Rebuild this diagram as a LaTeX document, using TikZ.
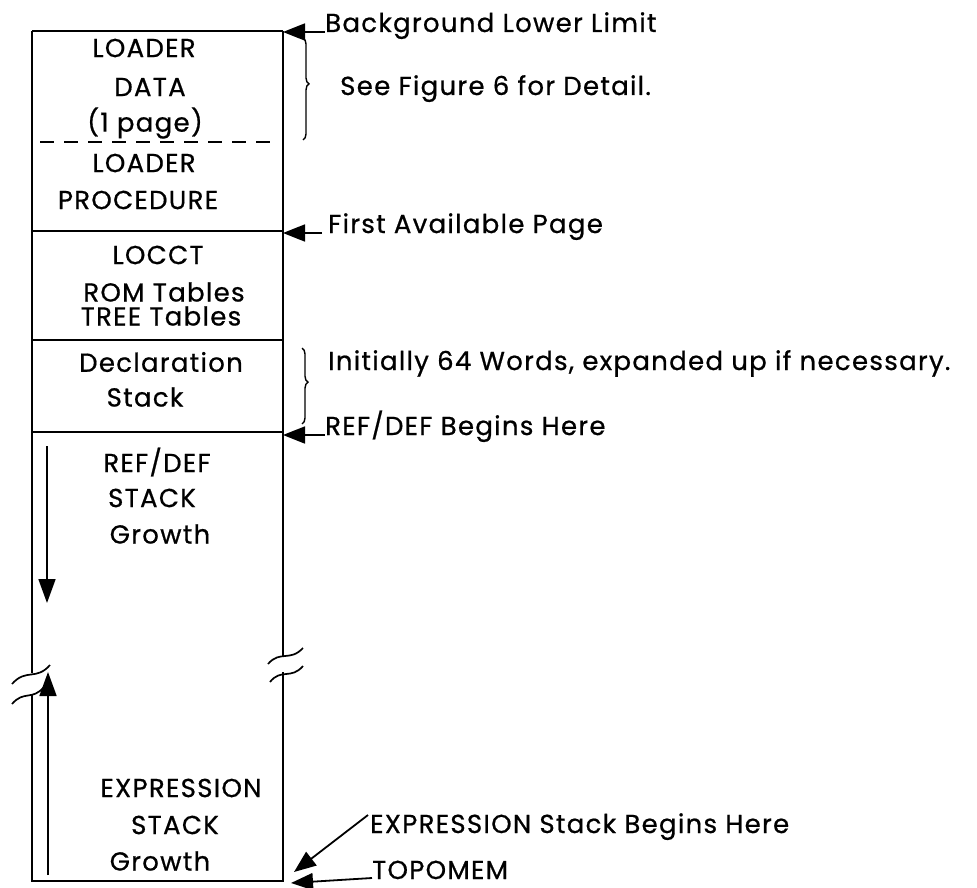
\documentclass[tikz,border=0pt]{standalone}
\usepackage{fontspec}
\setmainfont{Poppins}[LetterSpace=5, FakeBold=0.7]
\usepackage{tikz}
\usetikzlibrary{calc, positioning, arrows.meta, decorations.pathreplacing}

\newcommand{\memsize}{\fontsize{26}{31}\selectfont}

\tikzset{
  memtxt/.style={font=\memsize, inner sep=0pt},
  lbl/.style={font=\memsize, inner sep=0pt, anchor=base west},
  wall/.style={line width=2pt},
  ptr/.style={line width=1.8pt, arrows={-Triangle[length=22pt,width=17pt]}},
  growarrow/.style={line width=1.8pt, arrows={-Triangle[length=24pt,width=17pt]}},
  brk/.style={line width=1.7pt},
  curly/.style={decorate, decoration={brace, amplitude=6pt, aspect=0.45}, line width=1.4pt},
}

\begin{document}
\begin{tikzpicture}[x=1pt, y=-1pt]
    % Page frame, same size as the scan
    \useasboundingbox (0,0) rectangle (977,888);

    % Corners of the memory box
    \coordinate (tl) at (32,31);
    \coordinate (tr) at (283,31);
    \coordinate (bl) at (32,881);
    \coordinate (br) at (283,881);

    % Outer walls, broken near the middle
    \draw[line width=2.8pt] (tl) -- (tr);
    \draw[wall] (tl) -- (32,673);
    \draw[wall] (32,695) -- (bl) -- (br) -- (283,672);
    \draw[wall] (tr) -- (283,656);

    % Break marks on both walls
    \draw[brk] (12,684) .. controls (26,668) and (36,681) .. (50,665);
    \draw[brk] (12,704) .. controls (24,690) and (32,701) .. (44,687);
    \draw[brk] (268,664) .. controls (280,650) and (290,662) .. (303,648);
    \draw[brk] (270,682) .. controls (281,668) and (291,680) .. (303,666);

    % Section dividers
    \draw[wall, dash pattern=on 14pt off 10pt] (40,142) -- (277,142);
    \foreach \yy in {231, 340, 432}
        \draw[wall] (32,\yy) -- (283,\yy);

    % Texts inside the box
    \node[memtxt] (ldata)  at (144,48)  {LOADER};
    \node[memtxt] (data)   at (150,87)  {DATA};
    \node[memtxt] (onepg)  at (145,123) {(1 page)};
    \node[memtxt] (lproc)  at (144,163) {LOADER};
    \node[memtxt] (proc)   at (138,200) {PROCEDURE};
    \node[memtxt] (locct)  at (158,255) {LOCCT};
    \node[memtxt] (romtab) at (164,292) {ROM Tables};
    \node[memtxt] (trtab)  at (161,316) {TREE Tables};
    \node[memtxt] (decl)   at (161,362) {Declaration};
    \node[memtxt] (dstack) at (145,397) {Stack};
    \node[memtxt] (refdef) at (157,462) {REF/DEF};
    \node[memtxt] (rstack) at (152,498) {STACK};
    \node[memtxt] (rgrow)  at (160,534) {Growth};
    \node[memtxt] (expr)   at (181,788) {EXPRESSION};
    \node[memtxt] (estack) at (175,825) {STACK};
    \node[memtxt] (egrow)  at (160,861) {Growth};

    % Growth directions of the two stacks
    \coordinate (rtop) at (47,446);
    \coordinate (rend) at (47,603);
    \coordinate (ebot) at (48,875);
    \coordinate (eend) at (48,672);
    \draw[growarrow] (rtop) -- (rend);
    \draw[growarrow] (ebot) -- (eend);

    % Notes on the right
    \node[lbl] (bll)   at (325,32)  {Background Lower Limit};
    \node[lbl] (see)   at (340,95)  {See Figure 6 for Detail.};
    \node[lbl] (fap)   at (328,233) {First Available Page};
    \node[lbl] (init)  at (328,370) {Initially 64 Words, expanded up if necessary.};
    \node[lbl] (rdbeg) at (325,435) {REF/DEF Begins Here};
    \node[lbl] (esbeg) at (370,833) {EXPRESSION Stack Begins Here};
    \node[lbl] (topo)  at (372,879) {TOPOMEM};

    % Braces
    \draw[curly] (303,38) -- (303,140);
    \draw[curly] (302,348) -- (302,424);

    % Pointers to the box
    \coordinate (etip) at (294,872);
    \coordinate (ttip) at (291,883);
    \draw[ptr] (bll.base west) -- (bll.base west -| tr);
    \draw[ptr] ([xshift=-6pt]fap.base west) -- (fap.base west -| tr);
    \draw[ptr] (rdbeg.base west) -- (rdbeg.base west -| tr);
    \draw[ptr] ([shift={(-2pt,18pt)}]esbeg.base west) -- (etip);
    \draw[ptr] ([yshift=1pt]topo.base west) -- (ttip);
\end{tikzpicture}
\end{document}
